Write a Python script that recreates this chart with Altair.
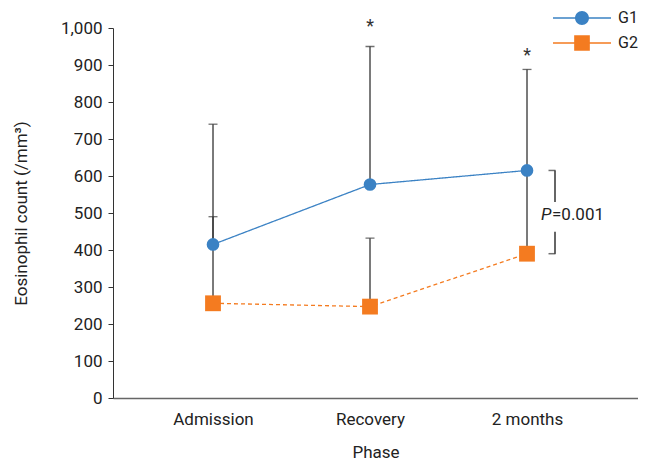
import altair as alt
import pandas as pd

phases = ["Admission", "Recovery", "2 months"]
series = ["G1", "G2"]
g1_mean = [415, 577, 615]
g1_upper = [740, 950, 888]
g2_mean = [256, 247, 390]
g2_upper = [490, 432, 610]
star_idx = [1, 2]
star_y = [1004, 924]
colors = ["#3b82c4", "#f47b20"]
p_label_y = 495
bracket_top = [615, 530]
bracket_bottom = [449, 390]

FONT = "Roboto"
FS = 17

rows = []
for i, ph in enumerate(phases):
    rows.append({"idx": i, "phase": ph, "series": "G1", "mean": g1_mean[i], "upper": g1_upper[i]})
    rows.append({"idx": i, "phase": ph, "series": "G2", "mean": g2_mean[i], "upper": g2_upper[i]})
df = pd.DataFrame(rows)

stars = pd.DataFrame({"idx": star_idx, "mean": star_y})
brk = pd.DataFrame({"idx": [2, 2], "mean": [bracket_top[0], bracket_bottom[0]],
                    "y2": [bracket_top[1], bracket_bottom[1]]})
brk_ends = pd.DataFrame({"idx": [2, 2], "mean": [bracket_top[0], bracket_bottom[1]]})
ptxt = pd.DataFrame({"idx": [2], "mean": [p_label_y]})

label_expr = "datum.value == 0 ? 'Admission' : datum.value == 1 ? 'Recovery' : '2 months'"
xaxis = alt.Axis(values=[0, 1, 2], labelExpr=label_expr, title="Phase", ticks=False,
                 grid=False, domainColor="#666", domainWidth=1.5, labelPadding=13,
                 titlePadding=17)
xenc = alt.X("idx:Q", scale=alt.Scale(domain=[-0.637, 2.707], nice=False, zero=False), axis=xaxis)
yaxis = alt.Axis(tickCount=10, format=",.0f", grid=False,
                 title="Eosinophil count (/mm³)", tickSize=5, tickColor="#333",
                 domainColor="#333", labelPadding=6, titlePadding=30, labelOverlap=False)
yenc = alt.Y("mean:Q", scale=alt.Scale(domain=[0, 1000], nice=False), axis=yaxis)

base = alt.Chart(df)

err = base.mark_rule(color="#333", strokeWidth=1.3).encode(x=xenc, y=yenc, y2="upper:Q")
caps = base.mark_tick(orient="horizontal", size=9, thickness=1.3, color="#333").encode(
    x=xenc, y=alt.Y("upper:Q", scale=alt.Scale(domain=[0, 1000], nice=False), axis=yaxis))
lines = base.mark_line(strokeWidth=1.3).encode(
    x=xenc, y=yenc,
    stroke=alt.Stroke("series:N", scale=alt.Scale(domain=series, range=colors), legend=None),
    strokeDash=alt.StrokeDash("series:N", scale=alt.Scale(domain=series, range=[[1, 0], [4, 3]]), legend=None),
)
pts1 = base.transform_filter("datum.series == 'G1'").mark_circle(size=160, opacity=1).encode(
    x=xenc, y=yenc, fill=alt.Fill("series:N", scale=alt.Scale(domain=series, range=colors), legend=None))
pts2 = base.transform_filter("datum.series == 'G2'").mark_square(size=250, opacity=1).encode(
    x=xenc, y=yenc, fill=alt.Fill("series:N", scale=alt.Scale(domain=series, range=colors), legend=None))

circ = ("M-1,-0.03H1V0.03H-1Z"
        "M0.24,0A0.24,0.24,0,1,1,-0.24,0A0.24,0.24,0,1,1,0.24,0Z")
sq = ("M-1,-0.03H1V0.03H-1Z"
      "M-0.27,-0.27H0.27V0.27H-0.27Z")
legend_shapes = [circ, sq]
legend_y = [-39, -14]
legend_fields = ["lg1", "lg2"]


def legend_layer(k):
    fld = legend_fields[k]
    return base.transform_filter("datum.idx < 0").transform_calculate(
        **{fld: "'" + series[k] + "'"}
    ).mark_point(filled=True, opacity=1, color=colors[k]).encode(
        x=xenc, y=yenc,
        shape=alt.Shape(fld + ":N",
                        scale=alt.Scale(domain=[series[k]], range=[legend_shapes[k]]),
                        legend=alt.Legend(title=None, orient="none", legendX=440, legendY=legend_y[k],
                                          symbolFillColor=colors[k], symbolStrokeColor=colors[k],
                                          symbolStrokeWidth=0, symbolSize=3364, labelFontSize=16,
                                          labelFont=FONT, labelColor="#222", labelOffset=7)),
    )


leg1 = legend_layer(0)
leg2 = legend_layer(1)

star_t = alt.Chart(stars).mark_text(text="*", fontSize=18, font=FONT, color="#333", baseline="middle").encode(
    x=xenc, y=yenc)
brk_v = alt.Chart(brk).mark_rule(color="#333", strokeWidth=1.5, xOffset=28).encode(x=xenc, y=yenc, y2="y2:Q")
brk_h = alt.Chart(brk_ends).mark_tick(orient="horizontal", size=7, thickness=1.5, color="#333", xOffset=25).encode(
    x=xenc, y=yenc)
p_it = alt.Chart(ptxt).mark_text(text="P", fontStyle="italic", fontSize=FS, font=FONT, color="#222",
                                  align="left", dx=14, baseline="middle").encode(x=xenc, y=yenc)
p_val = alt.Chart(ptxt).mark_text(text="=0.001", fontSize=FS, font=FONT, color="#222",
                                   align="left", dx=25, baseline="middle").encode(x=xenc, y=yenc)

chart = alt.layer(err, caps, lines, pts1, pts2, leg1, leg2, star_t, brk_v, brk_h, p_it, p_val).resolve_scale(
    shape="independent"
).properties(
    width=525, height=370,
    autosize=alt.AutoSizeParams(type="none"),
    padding={"left": 105, "top": 20, "right": 0, "bottom": 64},
).configure_view(stroke=None).configure_axis(
    labelFont=FONT, titleFont=FONT, labelFontSize=FS, titleFontSize=FS,
    labelColor="#222", titleColor="#222", titleFontWeight="normal"
)

chart.save("out.html", embed_options={"renderer": "svg", "actions": False})
